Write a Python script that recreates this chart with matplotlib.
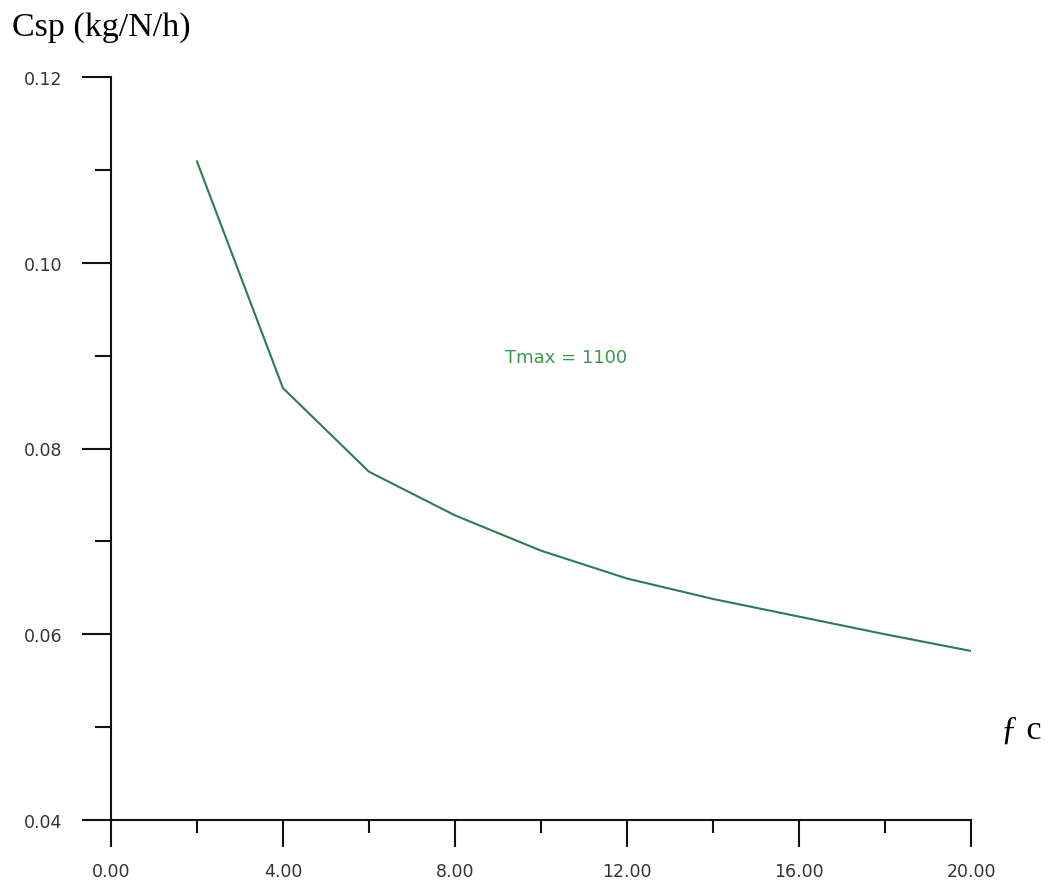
import matplotlib
matplotlib.use("Agg")
import matplotlib.pyplot as plt
from matplotlib.ticker import MultipleLocator, FormatStrFormatter

# Specific fuel consumption vs. compressor pressure ratio
fc = [2, 4, 6, 8, 10, 12, 14, 16, 18, 20]
csp = [0.1109, 0.0865, 0.0775, 0.0728, 0.0690, 0.0660, 0.0638, 0.0619, 0.0600, 0.0582]

W, H, DPI = 1053, 887, 100
fig = plt.figure(figsize=(W / DPI, H / DPI), dpi=DPI)
ax = fig.add_axes([111 / W, 1 - 821 / H, (971 - 111) / W, (821 - 78) / H])

ax.plot(fc, csp, color="#2a7d4f", lw=1.5)

ax.set_xlim(0, 20)
ax.set_ylim(0.04, 0.12)
ax.spines["top"].set_visible(False)
ax.spines["right"].set_visible(False)
for s in ("left", "bottom"):
    ax.spines[s].set_linewidth(1.5)
    ax.spines[s].set_color("#111111")

ax.xaxis.set_major_locator(MultipleLocator(4))
ax.xaxis.set_minor_locator(MultipleLocator(2))
ax.yaxis.set_major_locator(MultipleLocator(0.02))
ax.yaxis.set_minor_locator(MultipleLocator(0.01))
ax.xaxis.set_major_formatter(FormatStrFormatter("%.2f"))
ax.yaxis.set_major_formatter(FormatStrFormatter("%.2f"))

ax.tick_params(axis="x", which="major", direction="out", length=19.5, width=1.5,
               pad=11, labelsize=12.5, labelcolor="#333333", color="#111111")
ax.tick_params(axis="x", which="minor", direction="out", length=9.5, width=1.5,
               color="#111111")
ax.tick_params(axis="y", which="major", direction="out", length=21, width=1.5,
               pad=14, labelsize=12.5, labelcolor="#333333", color="#111111")
ax.tick_params(axis="y", which="minor", direction="out", length=11.5, width=1.5,
               color="#111111")
for lbl in ax.get_xticklabels() + ax.get_yticklabels():
    lbl.set_fontfamily("DejaVu Sans")

ax.text(10.58, 0.0899, "Tmax = 1100", color="#3a9a4a", fontsize=13,
        ha="center", va="center", family="DejaVu Sans")

fig.text(12 / W, 1 - 28 / H, "Csp (kg/N/h)", family="Liberation Serif",
         fontsize=24.5, ha="left", va="center")
fig.text(1001 / W, 1 - 730 / H, "ƒ c", family="Liberation Serif",
         fontsize=24.5, ha="left", va="center")

fig.savefig("out.png", dpi=DPI)
